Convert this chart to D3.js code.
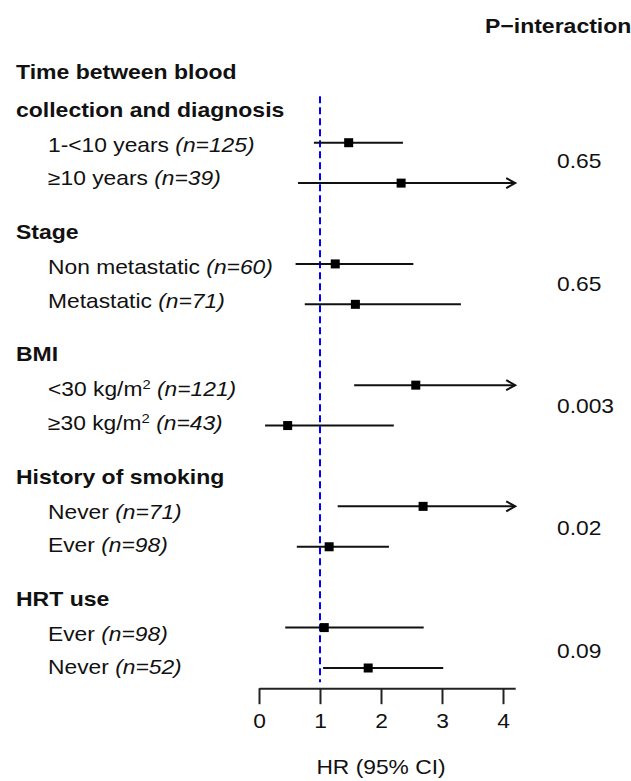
<!DOCTYPE html>
<html>
<head>
<meta charset="utf-8">
<script src="https://cdn.jsdelivr.net/npm/d3@7"></script>
<style>
  body { margin: 0; background: #fff; }
  text { font-family: "Liberation Sans", Arial, sans-serif; fill: #111; }
</style>
</head>
<body>
<div id="chart"></div>
<script>
// groups and their subgroups
const groups = [["Time between blood", "collection and diagnosis"], ["Stage"], ["BMI"], ["History of smoking"], ["HRT use"]];
const subLabels = [
  ["1-<10 years ", "(n=125)"], ["≥10 years ", "(n=39)"],
  ["Non metastatic ", "(n=60)"], ["Metastatic ", "(n=71)"],
  ["<30 kg/m", "2", " ", "(n=121)"], ["≥30 kg/m", "2", " ", "(n=43)"],
  ["Never ", "(n=71)"], ["Ever ", "(n=98)"],
  ["Ever ", "(n=98)"], ["Never ", "(n=52)"]
];
const hr    = [1.47, 2.33, 1.25, 1.58, 2.57, 0.47, 2.69, 1.15, 1.07, 1.79];
const lower = [0.90, 0.64, 0.60, 0.75, 1.56, 0.10, 1.29, 0.62, 0.43, 1.05];
const upper = [2.36, 4.90, 2.53, 3.31, 5.20, 2.21, 5.60, 2.13, 2.70, 3.02];
const rowIndex = [0, 1, 3, 4, 6, 7, 9, 10, 12, 13];
const pValues = ["0.65", "0.65", "0.003", "0.02", "0.09"];
const xTicks = [0, 1, 2, 3, 4];

const width = 631, height = 781;
const xMax = 4.2;
const sx = 1.14; // the figure is horizontally stretched

const svg = d3.select("#chart").append("svg")
  .attr("width", width).attr("height", height);

const x = d3.scaleLinear().domain([0, xMax]).range([259, 515.2]);
const y = d3.scaleLinear().domain([0, 13]).range([142.7, 668]);
// text rows sit on their own grid
const tY = d3.scaleLinear().domain([0, 4]).range([151.7, 640.9]);

// P-interaction title
svg.append("text")
  .attr("transform", `translate(485,33) scale(1.15,1)`)
  .style("font-size", "20px").style("font-weight", "bold")
  .text("P\u2212interaction");

// group headers
groups.forEach((lines, g) => {
  lines.forEach((t, j) => {
    const base = tY(g) - 35 - (lines.length - 1 - j) * 37.5;
    svg.append("text")
      .attr("transform", `translate(16,${base}) scale(1.15,1)`)
      .style("font-size", "20px").style("font-weight", "bold")
      .text(t);
  });
});

// subgroup labels
subLabels.forEach((parts, i) => {
  const g = Math.floor(i / 2);
  const base = tY(g) + (i % 2) * 33.5;
  const txt = svg.append("text")
    .attr("transform", `translate(48,${base}) scale(${sx},1)`)
    .style("font-size", "20px");
  parts.forEach(p => {
    const ts = txt.append("tspan").text(p);
    if (p.startsWith("(n=")) ts.style("font-style", "italic");
    if (p === "2") ts.attr("dy", -7).style("font-size", "13px");
    if (p === " ") ts.attr("dy", 7);
  });
});

// reference line at HR = 1
svg.append("line")
  .attr("x1", x(1)).attr("x2", x(1))
  .attr("y1", y(-1.15)).attr("y2", y(13.35))
  .attr("stroke", "#0000ff").attr("stroke-width", 2)
  .attr("stroke-dasharray", "7,4");

// confidence intervals
const rows = hr.map((d, i) => ({ hr: d, lo: lower[i], hi: upper[i], k: rowIndex[i] }));

svg.selectAll(".ci").data(rows).enter().append("line")
  .attr("class", "ci")
  .attr("x1", d => x(d.lo))
  .attr("x2", d => x(Math.min(d.hi, xMax)))
  .attr("y1", d => y(d.k)).attr("y2", d => y(d.k))
  .attr("stroke", "#111").attr("stroke-width", 2);

// arrows for truncated intervals
svg.selectAll(".arrow").data(rows.filter(d => d.hi > xMax)).enter().append("path")
  .attr("class", "arrow")
  .attr("d", d => {
    const tx = x(xMax), ty = y(d.k);
    return `M${tx - 9},${ty - 5}L${tx},${ty}L${tx - 9},${ty + 5}`;
  })
  .attr("fill", "none").attr("stroke", "#111").attr("stroke-width", 2);

// point estimates
const sq = 9;
svg.selectAll(".pt").data(rows).enter().append("rect")
  .attr("class", "pt")
  .attr("x", d => x(d.hr) - sq / 2)
  .attr("y", d => y(d.k) - sq / 2)
  .attr("width", sq).attr("height", sq)
  .attr("fill", "#000");

// p-values, centred between the two text rows of each group
pValues.forEach((p, g) => {
  svg.append("text")
    .attr("transform", `translate(557,${tY(g) + 16.75}) scale(${sx},1)`)
    .style("font-size", "20px")
    .text(p);
});

// x axis
const axis = svg.append("g")
  .attr("transform", `translate(0,${y(13.5)})`)
  .call(d3.axisBottom(x).tickValues(xTicks).tickFormat(d3.format("d"))
    .tickSize(16).tickSizeOuter(0).tickPadding(10));
axis.select(".domain").attr("stroke", "#222").attr("stroke-width", 2);
axis.selectAll(".tick line").attr("stroke", "#222").attr("stroke-width", 2);
axis.selectAll(".tick text")
  .attr("transform", `scale(${sx},1)`)
  .style("font-size", "20px")
  .style("font-family", "'Liberation Sans', Arial, sans-serif")
  .attr("fill", "#111");

svg.append("text")
  .attr("transform", `translate(${x(2)},774) scale(${sx},1)`)
  .attr("text-anchor", "middle")
  .style("font-size", "20px")
  .text("HR (95% CI)");
</script>
</body>
</html>
